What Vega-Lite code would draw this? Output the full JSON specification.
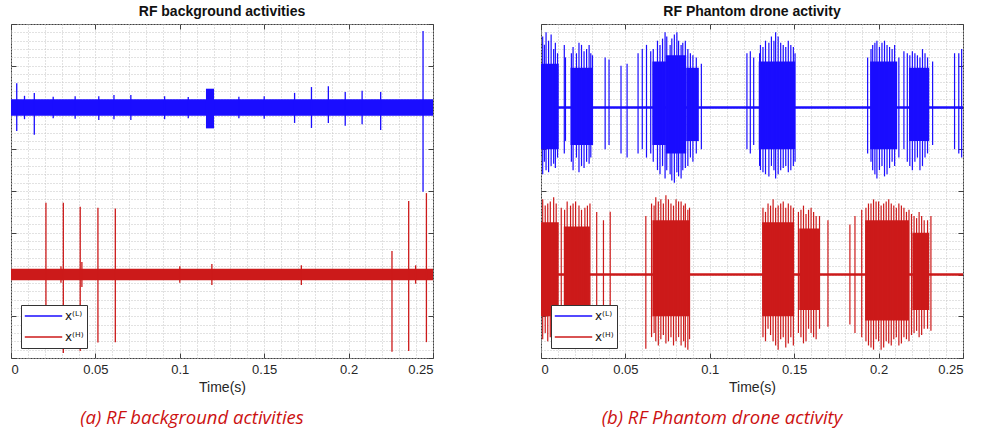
{
  "$schema": "https://vega.github.io/schema/vega-lite/v6.json",
  "padding": {"left": 10, "top": 4, "right": 5, "bottom": 0},
  "background": "white",
  "config": {
    "view": {"stroke": "#404040", "strokeWidth": 1},
    "font": "Liberation Sans",
    "axis": {"gridColor": "#c4c4c4", "gridDash": [1, 2], "gridWidth": 1, "labelFont": "Liberation Sans", "labelFontSize": 13, "labelColor": "#262626", "titleFont": "Liberation Sans", "titleFontSize": 14, "titleFontWeight": "normal", "titleColor": "#262626", "tickColor": "#404040", "domain": false},
    "title": {"font": "Liberation Sans", "fontSize": 14, "fontWeight": "bold", "color": "#111111", "offset": 5},
    "legend": {"orient": "bottom-left", "offset": 10, "symbolType": "stroke", "symbolSize": 1400, "symbolStrokeWidth": 1.5, "labelFont": "DejaVu Sans", "labelFontSize": 12, "labelColor": "#111111", "labelOffset": 2, "padding": 3, "rowPadding": 5, "clipHeight": 16, "strokeColor": "#333333", "fillColor": "white", "title": null}
  },
  "datasets": {
    "bands": [
      {"p": "a", "s": "L", "t": 0, "t2": 0.25, "lo": 1.8, "hi": 2.2},
      {"p": "a", "s": "L", "t": 0.1155, "t2": 0.1203, "lo": 1.5, "hi": 2.45},
      {"p": "a", "s": "H", "t": 0, "t2": 0.25, "lo": -2.14, "hi": -1.86},
      {"p": "b", "s": "L", "t": 0, "t2": 0.25, "lo": 1.97, "hi": 2.03},
      {"p": "b", "s": "H", "t": 0, "t2": 0.25, "lo": -2.03, "hi": -1.97},
      {"p": "b", "s": "L", "t": 0, "t2": 0.0105, "lo": 1.0, "hi": 3.05},
      {"p": "b", "s": "L", "t": 0.0175, "t2": 0.0305, "lo": 1.1, "hi": 2.95},
      {"p": "b", "s": "L", "t": 0.066, "t2": 0.074, "lo": 1.1, "hi": 3.1},
      {"p": "b", "s": "L", "t": 0.074, "t2": 0.086, "lo": 0.9, "hi": 3.25},
      {"p": "b", "s": "L", "t": 0.086, "t2": 0.0935, "lo": 1.2, "hi": 2.95},
      {"p": "b", "s": "L", "t": 0.129, "t2": 0.1505, "lo": 1.0, "hi": 3.1},
      {"p": "b", "s": "L", "t": 0.195, "t2": 0.211, "lo": 1.0, "hi": 3.1},
      {"p": "b", "s": "L", "t": 0.218, "t2": 0.23, "lo": 1.2, "hi": 2.95},
      {"p": "b", "s": "H", "t": 0, "t2": 0.0105, "lo": -3.0, "hi": -0.75},
      {"p": "b", "s": "H", "t": 0.0135, "t2": 0.029, "lo": -2.95, "hi": -0.85},
      {"p": "b", "s": "H", "t": 0.066, "t2": 0.088, "lo": -3.0, "hi": -0.7},
      {"p": "b", "s": "H", "t": 0.131, "t2": 0.15, "lo": -3.0, "hi": -0.75},
      {"p": "b", "s": "H", "t": 0.153, "t2": 0.165, "lo": -2.85, "hi": -0.9},
      {"p": "b", "s": "H", "t": 0.192, "t2": 0.218, "lo": -3.1, "hi": -0.7},
      {"p": "b", "s": "H", "t": 0.22, "t2": 0.23, "lo": -2.85, "hi": -1.0}
    ],
    "spikes": [
      {"p": "a", "s": "L", "t": 0.0034, "lo": 1.44, "hi": 2.58},
      {"p": "a", "s": "L", "t": 0.0138, "lo": 1.35, "hi": 2.35},
      {"p": "a", "s": "L", "t": 0.008, "lo": 1.72, "hi": 2.28},
      {"p": "a", "s": "L", "t": 0.025, "lo": 1.74, "hi": 2.26},
      {"p": "a", "s": "L", "t": 0.038, "lo": 1.73, "hi": 2.27},
      {"p": "a", "s": "L", "t": 0.052, "lo": 1.7, "hi": 2.27},
      {"p": "a", "s": "L", "t": 0.061, "lo": 1.72, "hi": 2.3},
      {"p": "a", "s": "L", "t": 0.071, "lo": 1.7, "hi": 2.3},
      {"p": "a", "s": "L", "t": 0.091, "lo": 1.72, "hi": 2.27},
      {"p": "a", "s": "L", "t": 0.105, "lo": 1.74, "hi": 2.25},
      {"p": "a", "s": "L", "t": 0.135, "lo": 1.74, "hi": 2.26},
      {"p": "a", "s": "L", "t": 0.15, "lo": 1.73, "hi": 2.27},
      {"p": "a", "s": "L", "t": 0.168, "lo": 1.63, "hi": 2.35},
      {"p": "a", "s": "L", "t": 0.178, "lo": 1.51, "hi": 2.49},
      {"p": "a", "s": "L", "t": 0.188, "lo": 1.63, "hi": 2.51},
      {"p": "a", "s": "L", "t": 0.198, "lo": 1.56, "hi": 2.37},
      {"p": "a", "s": "L", "t": 0.208, "lo": 1.6, "hi": 2.4},
      {"p": "a", "s": "L", "t": 0.219, "lo": 1.46, "hi": 2.37},
      {"p": "a", "s": "L", "t": 0.2441, "lo": -0.02, "hi": 3.83},
      {"p": "a", "s": "H", "t": 0.0207, "lo": -3.59, "hi": -0.28},
      {"p": "a", "s": "H", "t": 0.031, "lo": -3.88, "hi": -0.28},
      {"p": "a", "s": "H", "t": 0.041, "lo": -3.83, "hi": -0.38},
      {"p": "a", "s": "H", "t": 0.0515, "lo": -3.63, "hi": -0.4},
      {"p": "a", "s": "H", "t": 0.0618, "lo": -3.62, "hi": -0.42},
      {"p": "a", "s": "H", "t": 0.2257, "lo": -3.85, "hi": -1.44},
      {"p": "a", "s": "H", "t": 0.2356, "lo": -3.83, "hi": -0.24},
      {"p": "a", "s": "H", "t": 0.2461, "lo": -3.62, "hi": -0.05},
      {"p": "a", "s": "H", "t": 0.042, "lo": -2.3, "hi": -1.7},
      {"p": "a", "s": "H", "t": 0.119, "lo": -2.25, "hi": -1.75},
      {"p": "a", "s": "H", "t": 0.1, "lo": -2.2, "hi": -1.8},
      {"p": "a", "s": "H", "t": 0.172, "lo": -2.25, "hi": -1.78},
      {"p": "a", "s": "H", "t": 0.2397, "lo": -2.22, "hi": -1.78},
      {"p": "a", "s": "H", "t": 0.0296, "lo": -2.2, "hi": -1.8},
      {"p": "b", "s": "L", "t": 0.001, "lo": 0.4, "hi": 3.7},
      {"p": "b", "s": "L", "t": 0.002, "lo": 0.7, "hi": 3.5},
      {"p": "b", "s": "L", "t": 0.003, "lo": 0.5, "hi": 3.8},
      {"p": "b", "s": "L", "t": 0.0045, "lo": 0.45, "hi": 3.6},
      {"p": "b", "s": "L", "t": 0.006, "lo": 0.6, "hi": 3.75},
      {"p": "b", "s": "L", "t": 0.0075, "lo": 0.65, "hi": 3.4},
      {"p": "b", "s": "L", "t": 0.0085, "lo": 0.55, "hi": 3.55},
      {"p": "b", "s": "L", "t": 0.0098, "lo": 0.8, "hi": 3.3},
      {"p": "b", "s": "L", "t": 0.0138, "lo": 0.9, "hi": 3.5},
      {"p": "b", "s": "L", "t": 0.0145, "lo": 1.2, "hi": 3.2},
      {"p": "b", "s": "L", "t": 0.018, "lo": 0.7, "hi": 3.3},
      {"p": "b", "s": "L", "t": 0.019, "lo": 0.5, "hi": 3.45},
      {"p": "b", "s": "L", "t": 0.021, "lo": 0.8, "hi": 3.3},
      {"p": "b", "s": "L", "t": 0.0225, "lo": 0.45, "hi": 3.55},
      {"p": "b", "s": "L", "t": 0.024, "lo": 0.6, "hi": 3.5},
      {"p": "b", "s": "L", "t": 0.0255, "lo": 0.55, "hi": 3.35},
      {"p": "b", "s": "L", "t": 0.027, "lo": 0.7, "hi": 3.4},
      {"p": "b", "s": "L", "t": 0.0285, "lo": 0.65, "hi": 3.5},
      {"p": "b", "s": "L", "t": 0.0295, "lo": 0.8, "hi": 3.3},
      {"p": "b", "s": "L", "t": 0.0305, "lo": 1.1, "hi": 3.25},
      {"p": "b", "s": "L", "t": 0.038, "lo": 1.0, "hi": 3.2},
      {"p": "b", "s": "L", "t": 0.0403, "lo": 1.1, "hi": 3.15},
      {"p": "b", "s": "L", "t": 0.0474, "lo": 0.9, "hi": 3.0},
      {"p": "b", "s": "L", "t": 0.051, "lo": 0.8, "hi": 3.05},
      {"p": "b", "s": "L", "t": 0.0575, "lo": 0.9, "hi": 3.3},
      {"p": "b", "s": "L", "t": 0.06, "lo": 1.0, "hi": 3.4},
      {"p": "b", "s": "L", "t": 0.0625, "lo": 0.8, "hi": 3.5},
      {"p": "b", "s": "L", "t": 0.065, "lo": 0.9, "hi": 3.35},
      {"p": "b", "s": "L", "t": 0.0665, "lo": 0.7, "hi": 3.4},
      {"p": "b", "s": "L", "t": 0.069, "lo": 0.5, "hi": 3.6},
      {"p": "b", "s": "L", "t": 0.0705, "lo": 0.4, "hi": 3.5},
      {"p": "b", "s": "L", "t": 0.072, "lo": 0.6, "hi": 3.65},
      {"p": "b", "s": "L", "t": 0.0735, "lo": 0.3, "hi": 3.8},
      {"p": "b", "s": "L", "t": 0.0745, "lo": 0.5, "hi": 3.7},
      {"p": "b", "s": "L", "t": 0.0765, "lo": 0.4, "hi": 3.5},
      {"p": "b", "s": "L", "t": 0.0775, "lo": 0.25, "hi": 3.65},
      {"p": "b", "s": "L", "t": 0.079, "lo": 0.2, "hi": 3.75},
      {"p": "b", "s": "L", "t": 0.0805, "lo": 0.45, "hi": 3.8},
      {"p": "b", "s": "L", "t": 0.0815, "lo": 0.35, "hi": 3.6},
      {"p": "b", "s": "L", "t": 0.083, "lo": 0.3, "hi": 3.5},
      {"p": "b", "s": "L", "t": 0.084, "lo": 0.5, "hi": 3.55},
      {"p": "b", "s": "L", "t": 0.0855, "lo": 0.55, "hi": 3.6},
      {"p": "b", "s": "L", "t": 0.087, "lo": 0.6, "hi": 3.4},
      {"p": "b", "s": "L", "t": 0.0885, "lo": 0.8, "hi": 3.3},
      {"p": "b", "s": "L", "t": 0.09, "lo": 0.7, "hi": 3.25},
      {"p": "b", "s": "L", "t": 0.092, "lo": 0.9, "hi": 3.2},
      {"p": "b", "s": "L", "t": 0.095, "lo": 1.0, "hi": 3.05},
      {"p": "b", "s": "L", "t": 0.122, "lo": 1.0, "hi": 3.3},
      {"p": "b", "s": "L", "t": 0.124, "lo": 0.9, "hi": 3.35},
      {"p": "b", "s": "L", "t": 0.126, "lo": 1.1, "hi": 3.2},
      {"p": "b", "s": "L", "t": 0.1295, "lo": 0.6, "hi": 3.3},
      {"p": "b", "s": "L", "t": 0.13, "lo": 0.5, "hi": 3.5},
      {"p": "b", "s": "L", "t": 0.1315, "lo": 0.45, "hi": 3.45},
      {"p": "b", "s": "L", "t": 0.133, "lo": 0.4, "hi": 3.6},
      {"p": "b", "s": "L", "t": 0.135, "lo": 0.35, "hi": 3.55},
      {"p": "b", "s": "L", "t": 0.1365, "lo": 0.6, "hi": 3.7},
      {"p": "b", "s": "L", "t": 0.138, "lo": 0.5, "hi": 3.6},
      {"p": "b", "s": "L", "t": 0.139, "lo": 0.3, "hi": 3.8},
      {"p": "b", "s": "L", "t": 0.1405, "lo": 0.4, "hi": 3.7},
      {"p": "b", "s": "L", "t": 0.142, "lo": 0.5, "hi": 3.55},
      {"p": "b", "s": "L", "t": 0.1435, "lo": 0.55, "hi": 3.5},
      {"p": "b", "s": "L", "t": 0.145, "lo": 0.6, "hi": 3.45},
      {"p": "b", "s": "L", "t": 0.1465, "lo": 0.45, "hi": 3.6},
      {"p": "b", "s": "L", "t": 0.148, "lo": 0.5, "hi": 3.5},
      {"p": "b", "s": "L", "t": 0.1495, "lo": 0.6, "hi": 3.45},
      {"p": "b", "s": "L", "t": 0.1505, "lo": 0.7, "hi": 3.3},
      {"p": "b", "s": "L", "t": 0.1935, "lo": 0.9, "hi": 3.2},
      {"p": "b", "s": "L", "t": 0.1955, "lo": 0.7, "hi": 3.4},
      {"p": "b", "s": "L", "t": 0.1965, "lo": 0.5, "hi": 3.5},
      {"p": "b", "s": "L", "t": 0.1978, "lo": 0.4, "hi": 3.55},
      {"p": "b", "s": "L", "t": 0.199, "lo": 0.3, "hi": 3.6},
      {"p": "b", "s": "L", "t": 0.2005, "lo": 0.5, "hi": 3.45},
      {"p": "b", "s": "L", "t": 0.202, "lo": 0.6, "hi": 3.55},
      {"p": "b", "s": "L", "t": 0.2035, "lo": 0.35, "hi": 3.6},
      {"p": "b", "s": "L", "t": 0.205, "lo": 0.4, "hi": 3.5},
      {"p": "b", "s": "L", "t": 0.2065, "lo": 0.55, "hi": 3.45},
      {"p": "b", "s": "L", "t": 0.208, "lo": 0.7, "hi": 3.4},
      {"p": "b", "s": "L", "t": 0.2095, "lo": 0.6, "hi": 3.5},
      {"p": "b", "s": "L", "t": 0.212, "lo": 0.8, "hi": 3.2},
      {"p": "b", "s": "L", "t": 0.215, "lo": 1.0, "hi": 3.35},
      {"p": "b", "s": "L", "t": 0.217, "lo": 0.7, "hi": 3.3},
      {"p": "b", "s": "L", "t": 0.2185, "lo": 0.6, "hi": 3.25},
      {"p": "b", "s": "L", "t": 0.22, "lo": 0.5, "hi": 3.35},
      {"p": "b", "s": "L", "t": 0.2215, "lo": 0.7, "hi": 3.3},
      {"p": "b", "s": "L", "t": 0.223, "lo": 0.8, "hi": 3.25},
      {"p": "b", "s": "L", "t": 0.2245, "lo": 0.5, "hi": 3.2},
      {"p": "b", "s": "L", "t": 0.226, "lo": 0.6, "hi": 3.4},
      {"p": "b", "s": "L", "t": 0.2275, "lo": 0.8, "hi": 3.3},
      {"p": "b", "s": "L", "t": 0.229, "lo": 0.9, "hi": 3.2},
      {"p": "b", "s": "L", "t": 0.232, "lo": 1.1, "hi": 3.1},
      {"p": "b", "s": "L", "t": 0.245, "lo": 1.0, "hi": 3.3},
      {"p": "b", "s": "L", "t": 0.2475, "lo": 0.9, "hi": 3.3},
      {"p": "b", "s": "L", "t": 0.2492, "lo": 0.8, "hi": 3.4},
      {"p": "b", "s": "H", "t": 0.001, "lo": -3.55, "hi": -0.2},
      {"p": "b", "s": "H", "t": 0.0025, "lo": -3.4, "hi": -0.35},
      {"p": "b", "s": "H", "t": 0.004, "lo": -3.6, "hi": -0.3},
      {"p": "b", "s": "H", "t": 0.0055, "lo": -3.5, "hi": -0.25},
      {"p": "b", "s": "H", "t": 0.0075, "lo": -3.4, "hi": -0.15},
      {"p": "b", "s": "H", "t": 0.009, "lo": -3.3, "hi": -0.3},
      {"p": "b", "s": "H", "t": 0.012, "lo": -3.3, "hi": -0.4},
      {"p": "b", "s": "H", "t": 0.014, "lo": -3.2, "hi": -0.45},
      {"p": "b", "s": "H", "t": 0.0155, "lo": -3.5, "hi": -0.25},
      {"p": "b", "s": "H", "t": 0.0175, "lo": -3.45, "hi": -0.35},
      {"p": "b", "s": "H", "t": 0.019, "lo": -3.4, "hi": -0.3},
      {"p": "b", "s": "H", "t": 0.0205, "lo": -3.3, "hi": -0.25},
      {"p": "b", "s": "H", "t": 0.0225, "lo": -3.5, "hi": -0.35},
      {"p": "b", "s": "H", "t": 0.024, "lo": -3.4, "hi": -0.45},
      {"p": "b", "s": "H", "t": 0.026, "lo": -3.3, "hi": -0.4},
      {"p": "b", "s": "H", "t": 0.0275, "lo": -3.35, "hi": -0.35},
      {"p": "b", "s": "H", "t": 0.029, "lo": -3.45, "hi": -0.3},
      {"p": "b", "s": "H", "t": 0.033, "lo": -3.2, "hi": -0.5},
      {"p": "b", "s": "H", "t": 0.037, "lo": -3.3, "hi": -0.7},
      {"p": "b", "s": "H", "t": 0.041, "lo": -3.6, "hi": -0.5},
      {"p": "b", "s": "H", "t": 0.0621, "lo": -3.78, "hi": -0.6},
      {"p": "b", "s": "H", "t": 0.0655, "lo": -3.5, "hi": -0.3},
      {"p": "b", "s": "H", "t": 0.067, "lo": -3.4, "hi": -0.35},
      {"p": "b", "s": "H", "t": 0.068, "lo": -3.6, "hi": -0.15},
      {"p": "b", "s": "H", "t": 0.0695, "lo": -3.7, "hi": -0.25},
      {"p": "b", "s": "H", "t": 0.071, "lo": -3.55, "hi": -0.2},
      {"p": "b", "s": "H", "t": 0.0725, "lo": -3.45, "hi": -0.3},
      {"p": "b", "s": "H", "t": 0.074, "lo": -3.65, "hi": -0.1},
      {"p": "b", "s": "H", "t": 0.0755, "lo": -3.6, "hi": -0.2},
      {"p": "b", "s": "H", "t": 0.077, "lo": -3.5, "hi": -0.3},
      {"p": "b", "s": "H", "t": 0.0785, "lo": -3.7, "hi": -0.35},
      {"p": "b", "s": "H", "t": 0.08, "lo": -3.6, "hi": -0.2},
      {"p": "b", "s": "H", "t": 0.0815, "lo": -3.5, "hi": -0.25},
      {"p": "b", "s": "H", "t": 0.083, "lo": -3.7, "hi": -0.25},
      {"p": "b", "s": "H", "t": 0.0845, "lo": -3.6, "hi": -0.35},
      {"p": "b", "s": "H", "t": 0.0855, "lo": -3.75, "hi": -0.3},
      {"p": "b", "s": "H", "t": 0.087, "lo": -3.8, "hi": -0.45},
      {"p": "b", "s": "H", "t": 0.088, "lo": -3.55, "hi": -0.4},
      {"p": "b", "s": "H", "t": 0.1315, "lo": -3.5, "hi": -0.4},
      {"p": "b", "s": "H", "t": 0.133, "lo": -3.6, "hi": -0.5},
      {"p": "b", "s": "H", "t": 0.1345, "lo": -3.3, "hi": -0.3},
      {"p": "b", "s": "H", "t": 0.136, "lo": -3.45, "hi": -0.35},
      {"p": "b", "s": "H", "t": 0.1375, "lo": -3.6, "hi": -0.2},
      {"p": "b", "s": "H", "t": 0.139, "lo": -3.7, "hi": -0.4},
      {"p": "b", "s": "H", "t": 0.1405, "lo": -3.8, "hi": -0.35},
      {"p": "b", "s": "H", "t": 0.142, "lo": -3.55, "hi": -0.3},
      {"p": "b", "s": "H", "t": 0.1435, "lo": -3.5, "hi": -0.25},
      {"p": "b", "s": "H", "t": 0.145, "lo": -3.75, "hi": -0.4},
      {"p": "b", "s": "H", "t": 0.1465, "lo": -3.65, "hi": -0.3},
      {"p": "b", "s": "H", "t": 0.148, "lo": -3.5, "hi": -0.35},
      {"p": "b", "s": "H", "t": 0.1495, "lo": -3.7, "hi": -0.4},
      {"p": "b", "s": "H", "t": 0.1525, "lo": -3.4, "hi": -0.5},
      {"p": "b", "s": "H", "t": 0.154, "lo": -3.5, "hi": -0.45},
      {"p": "b", "s": "H", "t": 0.1555, "lo": -3.65, "hi": -0.35},
      {"p": "b", "s": "H", "t": 0.157, "lo": -3.6, "hi": -0.55},
      {"p": "b", "s": "H", "t": 0.1585, "lo": -3.3, "hi": -0.45},
      {"p": "b", "s": "H", "t": 0.16, "lo": -3.4, "hi": -0.4},
      {"p": "b", "s": "H", "t": 0.1615, "lo": -3.5, "hi": -0.5},
      {"p": "b", "s": "H", "t": 0.163, "lo": -3.55, "hi": -0.6},
      {"p": "b", "s": "H", "t": 0.165, "lo": -3.3, "hi": -0.6},
      {"p": "b", "s": "H", "t": 0.17, "lo": -3.25, "hi": -0.7},
      {"p": "b", "s": "H", "t": 0.183, "lo": -3.2, "hi": -0.8},
      {"p": "b", "s": "H", "t": 0.186, "lo": -3.4, "hi": -0.6},
      {"p": "b", "s": "H", "t": 0.19, "lo": -3.5, "hi": -0.45},
      {"p": "b", "s": "H", "t": 0.1925, "lo": -3.6, "hi": -0.4},
      {"p": "b", "s": "H", "t": 0.194, "lo": -3.7, "hi": -0.3},
      {"p": "b", "s": "H", "t": 0.1955, "lo": -3.75, "hi": -0.3},
      {"p": "b", "s": "H", "t": 0.197, "lo": -3.8, "hi": -0.2},
      {"p": "b", "s": "H", "t": 0.1985, "lo": -3.55, "hi": -0.25},
      {"p": "b", "s": "H", "t": 0.2, "lo": -3.6, "hi": -0.25},
      {"p": "b", "s": "H", "t": 0.2015, "lo": -3.8, "hi": -0.35},
      {"p": "b", "s": "H", "t": 0.203, "lo": -3.75, "hi": -0.3},
      {"p": "b", "s": "H", "t": 0.2045, "lo": -3.6, "hi": -0.25},
      {"p": "b", "s": "H", "t": 0.206, "lo": -3.65, "hi": -0.2},
      {"p": "b", "s": "H", "t": 0.2075, "lo": -3.7, "hi": -0.3},
      {"p": "b", "s": "H", "t": 0.209, "lo": -3.55, "hi": -0.35},
      {"p": "b", "s": "H", "t": 0.2105, "lo": -3.5, "hi": -0.4},
      {"p": "b", "s": "H", "t": 0.212, "lo": -3.7, "hi": -0.3},
      {"p": "b", "s": "H", "t": 0.2135, "lo": -3.65, "hi": -0.35},
      {"p": "b", "s": "H", "t": 0.215, "lo": -3.5, "hi": -0.4},
      {"p": "b", "s": "H", "t": 0.2165, "lo": -3.55, "hi": -0.5},
      {"p": "b", "s": "H", "t": 0.218, "lo": -3.6, "hi": -0.45},
      {"p": "b", "s": "H", "t": 0.2195, "lo": -3.45, "hi": -0.55},
      {"p": "b", "s": "H", "t": 0.221, "lo": -3.4, "hi": -0.6},
      {"p": "b", "s": "H", "t": 0.2225, "lo": -3.35, "hi": -0.65},
      {"p": "b", "s": "H", "t": 0.224, "lo": -3.5, "hi": -0.5},
      {"p": "b", "s": "H", "t": 0.2255, "lo": -3.45, "hi": -0.6},
      {"p": "b", "s": "H", "t": 0.227, "lo": -3.3, "hi": -0.7},
      {"p": "b", "s": "H", "t": 0.229, "lo": -3.3, "hi": -0.7},
      {"p": "b", "s": "H", "t": 0.231, "lo": -3.35, "hi": -0.6}
    ]
  },
  "spacing": 106,
  "resolve": {"scale": {"color": "independent"}, "legend": {"color": "independent"}},
  "hconcat": [
    {
      "spacing": 14,
      "resolve": {"scale": {"color": "independent"}, "legend": {"color": "independent"}},
      "vconcat": [
        {
          "title": "RF background activities",
          "width": 422, "height": 334,
          "resolve": {"axis": {"x": "independent", "y": "independent"}},
          "layer": [
            {
              "data": {"name": "bands"},
              "transform": [{"filter": "datum.p === 'a'"}],
              "mark": {"type": "rect"},
              "encoding": {
                "x": {"field": "t", "type": "quantitative", "scale": {"domain": [0, 0.25], "nice": false, "zero": false}, "axis": {"orient": "top", "values": [0, 0.05, 0.1, 0.15, 0.2, 0.25], "labels": false, "grid": false, "tickSize": -5, "title": null}},
                "x2": {"field": "t2"},
                "y": {"field": "lo", "type": "quantitative", "scale": {"domain": [-4, 4], "nice": false, "zero": false}, "axis": {"orient": "right", "values": [-4, -3, -2, -1, 0, 1, 2, 3, 4], "labels": false, "grid": false, "tickSize": -5, "title": null}},
                "y2": {"field": "hi"},
                "color": {"field": "s", "type": "nominal", "scale": {"domain": ["L", "H"], "range": ["#1a0dff", "#cc1a1a"]}, "legend": {"symbolType": "stroke", "labelExpr": "datum.label === 'L' ? 'x⁽ᴸ⁾' : 'x⁽ᴴ⁾'"}}
              }
            },
            {
              "data": {"name": "spikes"},
              "transform": [{"filter": "datum.p === 'a'"}],
              "mark": {"type": "rule", "strokeWidth": 1.3},
              "encoding": {
                "x": {"field": "t", "type": "quantitative", "title": "Time(s)", "axis": {"orient": "bottom", "values": [0, 0.01, 0.02, 0.03, 0.04, 0.05, 0.06, 0.07, 0.08, 0.09, 0.1, 0.11, 0.12, 0.13, 0.14, 0.15, 0.16, 0.17, 0.18, 0.19, 0.2, 0.21, 0.22, 0.23, 0.24, 0.25], "grid": true, "labelOverlap": false, "labelExpr": "round(datum.value*100) % 5 === 0 ? format(datum.value, '~g') : ''", "tickSize": -5, "labelPadding": 10, "tickOpacity": {"condition": {"test": "round(datum.value*100) % 5 !== 0", "value": 0}, "value": 1}}},
                "y": {"field": "lo", "type": "quantitative", "axis": {"orient": "left", "values": [-4, -3.8, -3.6, -3.4, -3.2, -3, -2.8, -2.6, -2.4, -2.2, -2, -1.8, -1.6, -1.4, -1.2, -1, -0.8, -0.6, -0.4, -0.2, 0, 0.2, 0.4, 0.6, 0.8, 1, 1.2, 1.4, 1.6, 1.8, 2, 2.2, 2.4, 2.6, 2.8, 3, 3.2, 3.4, 3.6, 3.8, 4], "grid": true, "labels": false, "title": null, "tickSize": -5, "tickOpacity": {"condition": {"test": "abs(datum.value - round(datum.value)) > 0.01", "value": 0}, "value": 1}}},
                "y2": {"field": "hi"},
                "color": {"field": "s", "type": "nominal", "legend": {"symbolType": "stroke", "labelExpr": "datum.label === 'L' ? 'x⁽ᴸ⁾' : 'x⁽ᴴ⁾'"}}
              }
            }
          ]
        },
        {
          "width": 362, "height": 18,
          "view": {"stroke": null},
          "data": {"values": [{"c": "(a) RF background activities"}]},
          "mark": {"type": "text", "font": "Open Sans", "fontStyle": "italic", "fontSize": 18.5, "color": "#cc1111"},
          "encoding": {"text": {"field": "c"}}
        }
      ]
    },
    {
      "spacing": 14,
      "resolve": {"scale": {"color": "independent"}, "legend": {"color": "independent"}},
      "vconcat": [
        {
          "title": "RF Phantom drone activity",
          "width": 422, "height": 334,
          "resolve": {"axis": {"x": "independent", "y": "independent"}},
          "layer": [
            {
              "data": {"name": "bands"},
              "transform": [{"filter": "datum.p === 'b'"}],
              "mark": {"type": "rect"},
              "encoding": {
                "x": {"field": "t", "type": "quantitative", "scale": {"domain": [0, 0.25], "nice": false, "zero": false}, "axis": {"orient": "top", "values": [0, 0.05, 0.1, 0.15, 0.2, 0.25], "labels": false, "grid": false, "tickSize": -5, "title": null}},
                "x2": {"field": "t2"},
                "y": {"field": "lo", "type": "quantitative", "scale": {"domain": [-4, 4], "nice": false, "zero": false}, "axis": {"orient": "right", "values": [-4, -3, -2, -1, 0, 1, 2, 3, 4], "labels": false, "grid": false, "tickSize": -5, "title": null}},
                "y2": {"field": "hi"},
                "color": {"field": "s", "type": "nominal", "scale": {"domain": ["L", "H"], "range": ["#1a0dff", "#cc1a1a"]}, "legend": {"symbolType": "stroke", "labelExpr": "datum.label === 'L' ? 'x⁽ᴸ⁾' : 'x⁽ᴴ⁾'"}}
              }
            },
            {
              "data": {"name": "spikes"},
              "transform": [{"filter": "datum.p === 'b'"}],
              "mark": {"type": "rule", "strokeWidth": 1.2},
              "encoding": {
                "x": {"field": "t", "type": "quantitative", "title": "Time(s)", "axis": {"orient": "bottom", "values": [0, 0.01, 0.02, 0.03, 0.04, 0.05, 0.06, 0.07, 0.08, 0.09, 0.1, 0.11, 0.12, 0.13, 0.14, 0.15, 0.16, 0.17, 0.18, 0.19, 0.2, 0.21, 0.22, 0.23, 0.24, 0.25], "grid": true, "labelOverlap": false, "labelExpr": "round(datum.value*100) % 5 === 0 ? format(datum.value, '~g') : ''", "tickSize": -5, "labelPadding": 10, "tickOpacity": {"condition": {"test": "round(datum.value*100) % 5 !== 0", "value": 0}, "value": 1}}},
                "y": {"field": "lo", "type": "quantitative", "axis": {"orient": "left", "values": [-4, -3.8, -3.6, -3.4, -3.2, -3, -2.8, -2.6, -2.4, -2.2, -2, -1.8, -1.6, -1.4, -1.2, -1, -0.8, -0.6, -0.4, -0.2, 0, 0.2, 0.4, 0.6, 0.8, 1, 1.2, 1.4, 1.6, 1.8, 2, 2.2, 2.4, 2.6, 2.8, 3, 3.2, 3.4, 3.6, 3.8, 4], "grid": true, "labels": false, "title": null, "tickSize": -5, "tickOpacity": {"condition": {"test": "abs(datum.value - round(datum.value)) > 0.01", "value": 0}, "value": 1}}},
                "y2": {"field": "hi"},
                "color": {"field": "s", "type": "nominal", "legend": {"symbolType": "stroke", "labelExpr": "datum.label === 'L' ? 'x⁽ᴸ⁾' : 'x⁽ᴴ⁾'"}}
              }
            }
          ]
        },
        {
          "width": 362, "height": 18,
          "view": {"stroke": null},
          "data": {"values": [{"c": "(b) RF Phantom drone activity"}]},
          "mark": {"type": "text", "font": "Open Sans", "fontStyle": "italic", "fontSize": 18.5, "color": "#cc1111"},
          "encoding": {"text": {"field": "c"}}
        }
      ]
    }
  ]
}
